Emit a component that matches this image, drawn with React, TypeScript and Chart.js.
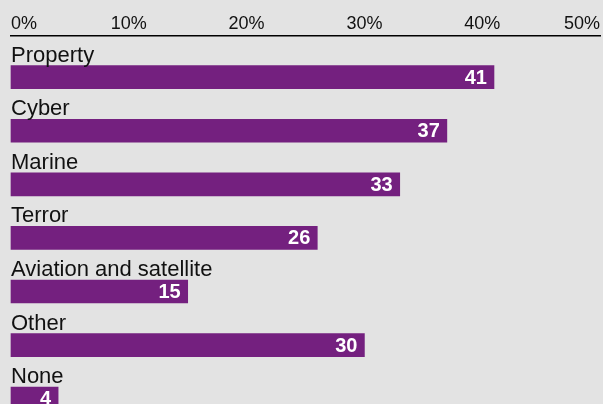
import React, { useEffect, useRef } from "react";
import { Chart, registerables } from "chart.js";

Chart.register(...registerables);

const categories = ["Property", "Cyber", "Marine", "Terror", "Aviation and satellite", "Other", "None"];
const values = [41, 37, 33, 26, 15, 30, 4];
const xTicks = [0, 10, 20, 30, 40, 50];

const BG = "#e3e3e3";
const BAR = "#74207f";
const FONT = "'Liberation Sans', Arial, sans-serif";

const labelPlugin = {
  id: "barLabels",
  afterDatasetsDraw(chart: any) {
    const ctx = chart.ctx;
    const meta = chart.getDatasetMeta(0);
    ctx.save();
    meta.data.forEach((bar: any, i: number) => {
      const top = bar.y - bar.height / 2;
      ctx.fillStyle = "#111111";
      ctx.font = `22px ${FONT}`;
      ctx.textAlign = "left";
      ctx.textBaseline = "alphabetic";
      ctx.fillText(categories[i], bar.base, top - 4);
      ctx.fillStyle = "#ffffff";
      ctx.font = `bold 20px ${FONT}`;
      ctx.textAlign = "right";
      ctx.textBaseline = "middle";
      ctx.fillText(String(values[i]), bar.x - 7, bar.y + 1);
    });
    ctx.restore();
  },
};

export default function App() {
  const ref = useRef<HTMLCanvasElement>(null);
  useEffect(() => {
    if (!ref.current) return;
    const chart = new Chart(ref.current, {
      type: "bar",
      data: {
        datasets: [
          {
            data: values.map((v, i) => ({ x: v, y: i })),
            backgroundColor: BAR,
            borderWidth: 0,
            barThickness: 23,
            clip: false as any,
          },
        ],
      },
      options: {
        indexAxis: "y",
        animation: false,
        responsive: false,
        maintainAspectRatio: false,
        layout: { padding: { left: 11, right: 3, top: 12, bottom: 0 } },
        plugins: { legend: { display: false }, tooltip: { enabled: false } },
        scales: {
          x: {
            type: "linear",
            position: "top",
            min: 0,
            max: 50,
            offset: false,
            afterBuildTicks: (axis: any) => {
              axis.ticks = xTicks.map((v) => ({ value: v }));
            },
            ticks: {
              align: "inner",
              padding: 1,
              color: "#111111",
              font: { family: FONT, size: 18 },
              callback: (v: any) => `${v}%`,
            },
            grid: { display: false, drawTicks: false },
            border: { display: true, color: "#000000", width: 1.5 },
          },
          y: {
            type: "linear",
            reverse: true,
            offset: false,
            min: -0.776,
            max: 6.1,
            display: false,
          },
        },
      },
      plugins: [labelPlugin],
    });
    return () => chart.destroy();
  }, []);
  return (
    <div style={{ position: "fixed", left: 0, top: 0, width: 603, height: 404, background: BG, overflow: "hidden" }}>
      <canvas ref={ref} width={603} height={404} style={{ display: "block" }} />
    </div>
  );
}
